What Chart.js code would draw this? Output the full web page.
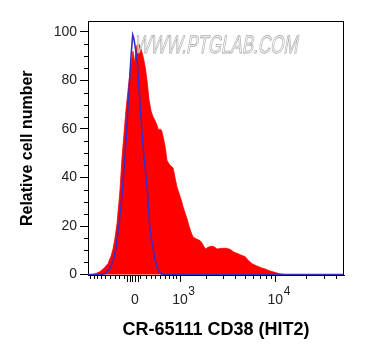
<!DOCTYPE html>
<html><head><meta charset="utf-8">
<script src="https://cdn.jsdelivr.net/npm/chart.js@4.4.0/dist/chart.umd.min.js"></script>
<style>html,body{margin:0;padding:0;background:#fff;}canvas{display:block;}</style>
</head><body>
<canvas id="c" width="365" height="360" style="width:365px;height:360px"></canvas>
<script>
// Histogram bins: display channel (0–256 across the biexponential axis) and relative cell number
const redChannels = [0,4,8,12,16,20,23,25,27,29,31,32,34,36,38,40,42,43.5,45,46.3,47.5,49,51,53,55,57,59,61,63,65,67,69,70.5,72,73.5,75,77,79,82,85,87,89,91,93,95,97,99,101,103,105,107,109,112,114,116,117.5,120,123,126,129,131,134,138,142,146,150,154,157,160,162,165,169,173,177,181,185,189,193,197,256];
const redCounts   = [0,0,0.4,1.2,2.6,4.5,7.5,10.5,15,21,30,35,48,58,68,76,83,88,92,87,91,94.6,95,93,90,86,80,72,67.5,65,63.5,61.5,59.5,60,59.5,57,53,47,45,44,40,36,33.5,31,28,25.5,23,20,17.5,15.5,15,14.5,14,13,11.5,10.5,11.2,11.7,11.5,10.5,10.6,10.8,10.8,10.4,9.2,8.6,7.8,7.4,6,5.2,4.2,3.5,2.8,2.3,1.6,1.1,0.6,0.2,0,0];
const blueChannels = [0,12,17,22,25.3,28,30.3,33,35,37,39,41,43,44.7,46,47.5,49.3,52,54.3,56.3,59.3,62,67,70,73.7,256];
const blueCounts   = [0,0,0.3,2.5,6,11,18.4,28,38,49,62,76,90,98.8,97,93,87,70.7,56.8,47.2,35,18.4,6,2,0,0];

// Axis ticks (fluorescence intensity values) and labels
const xMajorTickValues = [-150,-100,-50,0,50,1000,10000];
const xMinorTickValues = [-1000,-900,-800,-700,-600,-500,-400,-300,-200,100,200,300,400,500,600,700,800,900,2000,3000,4000,5000,6000,7000,8000,9000,20000,30000,40000];
const xLabelValues = [0,1000,10000];
const xLabelBase = ['0','10','10'];
const xLabelExp  = ['','3','4'];
const yTickValues = [0,20,40,60,80,100];
const yMinorTickValues = [5,10,15,25,30,35,45,50,55,65,70,75,85,90,95];

// biexponential (asinh-like) transform from intensity to display channel
const C = 415, PX_PER_DECADE = 101.5, ZERO_CH = 47;
function fT(v){ return Math.log10((v + Math.sqrt(v*v + 4*C*C))/2); }
function toCh(v){ return ZERO_CH + (fT(v) - fT(0)) * PX_PER_DECADE; }

const FONT = "'Liberation Sans', Arial, sans-serif";

const decor = {
  id: 'decor',
  afterDraw(chart){
    const ctx = chart.ctx, ca = chart.chartArea;
    const xs = chart.scales.x, ys = chart.scales.y;
    ctx.save();
    ctx.strokeStyle = '#000'; ctx.lineWidth = 1;
    // frame top & right
    ctx.beginPath();
    ctx.moveTo(ca.left, Math.round(ca.top)+0.5); ctx.lineTo(ca.right, Math.round(ca.top)+0.5);
    ctx.moveTo(Math.round(ca.right)-0.5, ca.top); ctx.lineTo(Math.round(ca.right)-0.5, ca.bottom);
    ctx.stroke();
    // x tick marks
    const b = Math.round(ca.bottom);
    ctx.beginPath();
    xMinorTickValues.forEach(v => { const p = Math.round(xs.getPixelForValue(toCh(v)))+0.5; ctx.moveTo(p, b); ctx.lineTo(p, b+3); });
    xMajorTickValues.forEach(v => { const p = Math.round(xs.getPixelForValue(toCh(v)))+0.5; ctx.moveTo(p, b); ctx.lineTo(p, b+6); });
    // y minor tick marks
    const l = Math.round(ca.left);
    yMinorTickValues.forEach(v => { const p = Math.round(ys.getPixelForValue(v))+0.5; ctx.moveTo(l-4, p); ctx.lineTo(l, p); });
    ctx.stroke();
    // x labels with superscripts
    ctx.fillStyle = '#222';
    ctx.textBaseline = 'alphabetic';
    xLabelValues.forEach((v,i) => {
      const p = xs.getPixelForValue(toCh(v));
      ctx.font = '14px ' + FONT;
      ctx.textAlign = 'center';
      ctx.fillText(xLabelBase[i], p, b + 28);
      if (xLabelExp[i]) {
        const w = ctx.measureText(xLabelBase[i]).width;
        ctx.font = '12px ' + FONT;
        ctx.textAlign = 'left';
        ctx.fillText(xLabelExp[i], p + w/2 + 0.5, b + 19);
      }
    });
    // watermark
    ctx.translate(134, 53);
    ctx.transform(0.68, 0, -0.18, 1, 0, 0);
    ctx.font = '25px ' + FONT;
    ctx.textAlign = 'left';
    ctx.fillStyle = 'rgba(255,255,255,0.85)';
    ctx.strokeStyle = 'rgba(165,165,165,0.9)';
    ctx.lineWidth = 0.9;
    ctx.fillText('WWW.PTGLAB.COM', 0, 0);
    ctx.strokeText('WWW.PTGLAB.COM', 0, 0);
    ctx.restore();
  }
};

new Chart(document.getElementById('c'), {
  type: 'line',
  data: {
    datasets: [
      { label: 'Isotype control', data: blueChannels.map((x,i)=>({x, y: blueCounts[i]})),
        borderColor: '#3a2cc4', borderWidth: 1.6, fill: false, pointRadius: 0, tension: 0 },
      { label: 'CD38', data: redChannels.map((x,i)=>({x, y: redCounts[i]})),
        borderColor: '#ff0000', borderWidth: 0.8, backgroundColor: '#ff0000', fill: 'origin', pointRadius: 0, tension: 0 }
    ]
  },
  options: {
    responsive: false, devicePixelRatio: 1, animation: false,
    layout: { padding: { top: 21, right: 21, left: 0, bottom: 0 } },
    plugins: { legend: { display: false }, tooltip: { enabled: false } },
    scales: {
      x: {
        type: 'linear', min: 0, max: 256,
        grid: { display: false },
        border: { display: true, color: '#000', width: 1 },
        ticks: { display: false },
        title: { display: true, text: 'CR-65111 CD38 (HIT2)', color: '#000',
                 font: { family: FONT, size: 18, weight: 'bold' }, padding: { top: 0, bottom: 19 } },
        afterFit(s){ s.height = 84.5; }
      },
      y: {
        type: 'linear', min: -0.4, max: 104.5,
        afterBuildTicks(s){ s.ticks = yTickValues.map(v => ({ value: v })); },
        grid: { display: true, drawOnChartArea: false, drawTicks: true, tickLength: 8, color: '#000', lineWidth: 1 },
        border: { display: true, color: '#000', width: 1 },
        ticks: { color: '#222', padding: 3, font: { family: FONT, size: 14 } },
        title: { display: true, text: 'Relative cell number', color: '#000',
                 font: { family: FONT, size: 16, weight: 'bold' }, padding: { top: 18, bottom: 0 } },
        afterFit(s){ s.width = 88; }
      }
    }
  },
  plugins: [decor]
});
</script>
</body></html>
